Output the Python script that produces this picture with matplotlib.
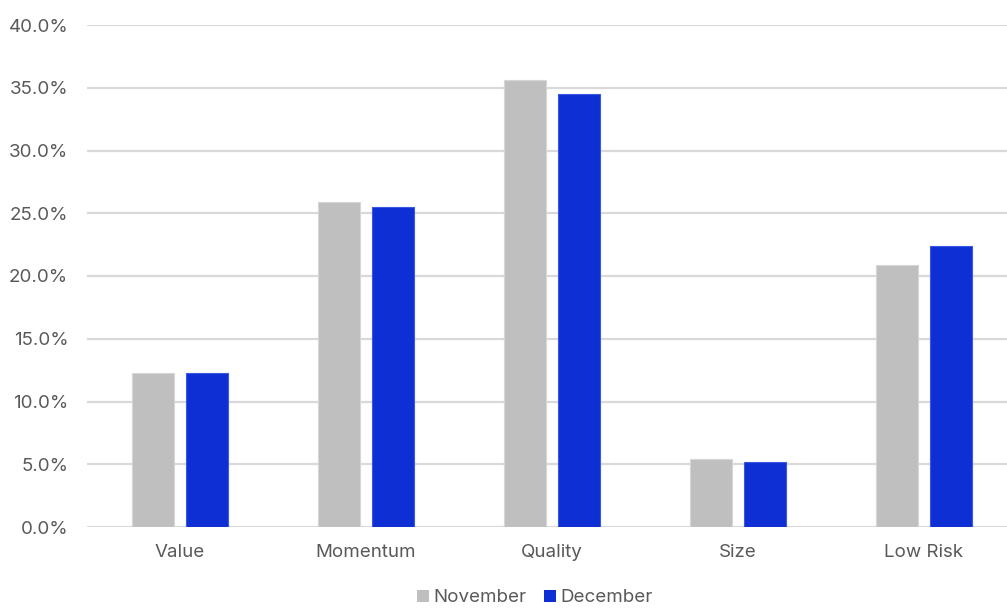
import matplotlib
matplotlib.use("Agg")
import matplotlib.pyplot as plt
from matplotlib.ticker import FuncFormatter, MultipleLocator
from matplotlib.patches import Patch
import numpy as np

plt.rcParams['font.family'] = ['Inter', 'DejaVu Sans']

categories = ["Value", "Momentum", "Quality", "Size", "Low Risk"]
november = [12.3, 25.9, 35.6, 5.4, 20.9]
december = [12.3, 25.5, 34.5, 5.2, 22.4]
series_names = ["November", "December"]

gray = "#BFBFBF"
blue = "#0E2FD3"
text_color = "#595959"
grid_color = "#D9D9D9"

W, H = 1007, 608
fig = plt.figure(figsize=(W / 100, H / 100), dpi=100)
left, right = 87, 1017
bottom, top = 527, 25
ax = fig.add_axes([left / W, 1 - bottom / H, (right - left) / W, (bottom - top) / H])

x = np.arange(len(categories))
bw = 0.226
off = 0.145
ax.bar(x - off, november, width=bw, color=gray, edgecolor="#D6D6D6", linewidth=0.8, zorder=3)
ax.bar(x + off, december, width=bw, color=blue, edgecolor="#3A58E0", linewidth=0.8, zorder=3)

ax.set_xlim(-0.5, len(categories) - 0.5)
ax.set_ylim(0, 40)
ax.yaxis.set_major_locator(MultipleLocator(5))
ax.yaxis.set_major_formatter(FuncFormatter(lambda v, p: f"{v:.1f}%"))
ax.grid(axis="y", color=grid_color, linewidth=1.6, zorder=0)
ax.set_axisbelow(True)
for s in ax.spines.values():
    s.set_visible(False)
ax.tick_params(axis="y", length=0, pad=13.5, labelsize=13.5, labelcolor=text_color)
ax.tick_params(axis="x", length=0, pad=12, labelsize=13.5, labelcolor=text_color)
ax.set_xticks(x)
ax.set_xticklabels(categories)

handles = [Patch(facecolor=gray, edgecolor="none"), Patch(facecolor=blue, edgecolor="none")]
fig.legend(handles, series_names, loc="center", bbox_to_anchor=(535 / W, 1 - 598 / H),
           ncol=2, frameon=False, fontsize=13.5, labelcolor=text_color,
           handlelength=0.65, handleheight=0.65, handletextpad=0.25, columnspacing=0.9,
           borderpad=0.1)

fig.savefig("out.png", dpi=100)
